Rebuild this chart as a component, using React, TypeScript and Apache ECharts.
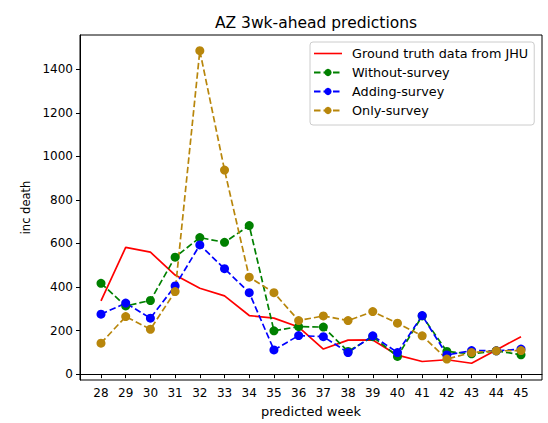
import React, { useEffect, useRef } from "react";
import * as echarts from "echarts";

const weeks = [28, 29, 30, 31, 32, 33, 34, 35, 36, 37, 38, 39, 40, 41, 42, 43, 44, 45];
const groundTruth = [336, 582, 560, 455, 394, 359, 269, 257, 216, 115, 156, 157, 87, 58, 66, 50, 111, 172];
const withoutSurvey = [417, 313, 338, 537, 627, 605, 682, 199, 218, 216, 104, 172, 81, 267, 104, 93, 107, 89];
const addingSurvey = [275, 326, 257, 405, 593, 484, 374, 111, 177, 172, 99, 176, 99, 269, 88, 108, 107, 115];
const onlySurvey = [142, 264, 206, 379, 1485, 937, 445, 374, 246, 267, 246, 287, 234, 176, 69, 99, 107, 108];
const yTicks = [0, 200, 400, 600, 800, 1000, 1200, 1400];

const FONT = "DejaVu Sans";
// plain horizontal bar for the solid-line legend entry (the moveTo points pad the bounding box)
const LINE_ICON = "path://M0,0 M0,9 M0,3.7 L28,3.7 L28,5.3 L0,5.3 Z";

function pairs(vals: number[]) {
  return weeks.map((w, i) => [w, vals[i]]);
}

export default function App() {
  const ref = useRef<HTMLDivElement>(null);
  useEffect(() => {
    if (!ref.current) return;
    const chart = echarts.init(ref.current, null, { renderer: "svg" });
    const dashedSeries = (name: string, color: string, vals: number[]) => ({
      name,
      type: "line",
      data: pairs(vals),
      symbol: "circle",
      symbolSize: 9,
      lineStyle: { color, width: 1.7, type: [6.5, 3] },
      itemStyle: { color },
    });
    chart.setOption({
      animation: false,
      title: {
        text: "AZ 3wk-ahead predictions",
        left: 311,
        top: 10,
        textAlign: "center",
        textStyle: { fontFamily: FONT, fontSize: 15.5, fontWeight: "normal", color: "#000" },
      },
      grid: {
        left: 80,
        right: 6,
        top: 35,
        bottom: 43,
        show: true,
        borderColor: "#000",
        borderWidth: 1,
      },
      legend: {
        orient: "vertical",
        left: 310,
        top: 42,
        itemWidth: 28,
        itemHeight: 9,
        itemGap: 6,
        padding: [5, 6, 8, 3],
        borderColor: "#ccc",
        borderWidth: 1,
        borderRadius: 3,
        backgroundColor: "#fff",
        textStyle: { fontFamily: FONT, fontSize: 12.8, color: "#000", padding: [0, 0, 0, 5] },
        data: [
          { name: "Ground truth data from JHU", icon: LINE_ICON },
          "Without-survey",
          "Adding-survey",
          "Only-survey",
        ],
      },
      xAxis: {
        type: "value",
        min: 27.15,
        max: 45.85,
        name: "predicted week",
        nameLocation: "middle",
        nameGap: 25,
        nameTextStyle: { fontFamily: FONT, fontSize: 13, color: "#000" },
        splitLine: { show: false },
        axisLine: { show: true, lineStyle: { color: "#000" } },
        axisTick: { show: true, length: 4, customValues: weeks, lineStyle: { color: "#000" } },
        axisLabel: {
          customValues: weeks,
          fontFamily: FONT,
          fontSize: 12,
          color: "#000",
          margin: 7,
        },
      },
      yAxis: {
        type: "value",
        min: -27,
        max: 1557,
        name: "inc death",
        nameLocation: "middle",
        nameGap: 47,
        nameTextStyle: { fontFamily: FONT, fontSize: 11.5, color: "#000" },
        splitLine: { show: false },
        axisLine: { show: true, lineStyle: { color: "#000" } },
        axisTick: { show: true, length: 4, customValues: yTicks, lineStyle: { color: "#000" } },
        axisLabel: {
          customValues: yTicks,
          formatter: (v: number) => String(v),
          fontFamily: FONT,
          fontSize: 12,
          color: "#000",
          margin: 7,
        },
      },
      series: [
        {
          name: "Ground truth data from JHU",
          type: "line",
          data: pairs(groundTruth),
          symbol: "none",
          lineStyle: { color: "#ff0000", width: 1.7 },
          itemStyle: { color: "#ff0000" },
        },
        dashedSeries("Without-survey", "#008000", withoutSurvey),
        dashedSeries("Adding-survey", "#0000ff", addingSurvey),
        dashedSeries("Only-survey", "#b8860b", onlySurvey),
      ],
    });
    return () => chart.dispose();
  }, []);
  return (
    <div
      ref={ref}
      style={{ position: "absolute", left: 0, top: 0, width: 548, height: 423, background: "#fff" }}
    />
  );
}
